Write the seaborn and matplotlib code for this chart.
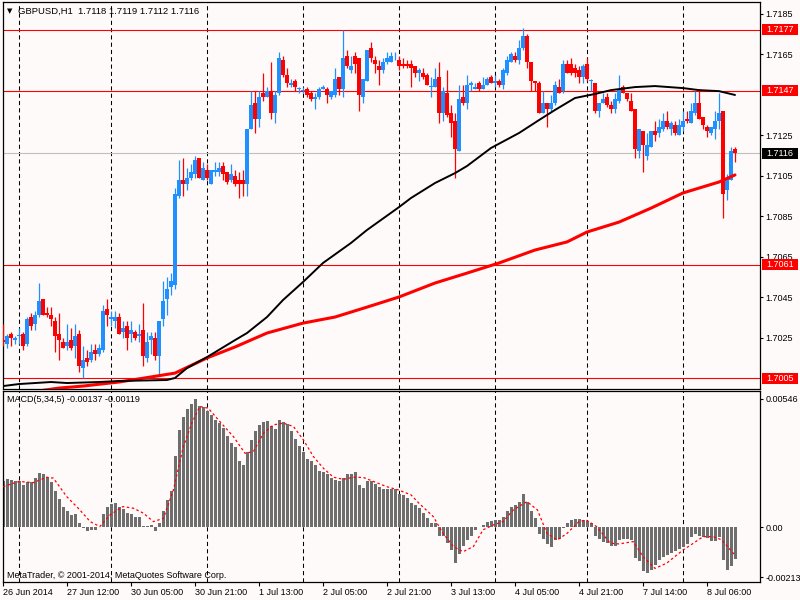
import numpy as np
import pandas as pd
import seaborn as sns
import matplotlib.pyplot as plt
import matplotlib.transforms as mtransforms
from matplotlib.patches import Rectangle

# GBPUSD H1 candles, 26 Jun 2014 20:00 .. 8 Jul 2014 13:00
opens = [
    1.7024, 1.7022, 1.7027, 1.7024, 1.7026, 1.7027, 1.7022, 1.7035, 1.7032, 1.7036, 1.7044, 1.7037,
    1.7036, 1.7033, 1.7027, 1.7023, 1.7021, 1.7024, 1.7021, 1.7027, 1.7010, 1.7015, 1.7014, 1.7019,
    1.7017, 1.7019, 1.7039, 1.7034, 1.7033, 1.7035, 1.7028, 1.7031, 1.7027, 1.7028, 1.7026, 1.7029,
    1.7015, 1.7024, 1.7025, 1.7016, 1.7034, 1.7044, 1.7050, 1.7051, 1.7095, 1.7103, 1.7101, 1.7104,
    1.7106, 1.7114, 1.7103, 1.7108, 1.7101, 1.7107, 1.7107, 1.7110, 1.7107, 1.7103, 1.7105, 1.7103,
    1.7103, 1.7101, 1.7128, 1.7141, 1.7133, 1.7146, 1.7144, 1.7147, 1.7136, 1.7146, 1.7162, 1.7155,
    1.7150, 1.7152, 1.7148, 1.7147, 1.7148, 1.7146, 1.7143, 1.7144, 1.7148, 1.7148, 1.7144, 1.7145,
    1.7154, 1.7148, 1.7164, 1.7157, 1.7164, 1.7163, 1.7144, 1.7152, 1.7168, 1.7162, 1.7159, 1.7157,
    1.7161, 1.7161, 1.7163, 1.7162, 1.7160, 1.7160, 1.7160, 1.7159, 1.7156, 1.7156, 1.7155, 1.7149,
    1.7149, 1.7154, 1.7136, 1.7146, 1.7136, 1.7132, 1.7117, 1.7144, 1.7141, 1.7150, 1.7148, 1.7151,
    1.7148, 1.7150, 1.7154, 1.7151, 1.7152, 1.7150, 1.7156, 1.7161, 1.7164, 1.7162, 1.7168, 1.7174,
    1.7161, 1.7152, 1.7151, 1.7136, 1.7141, 1.7138, 1.7141, 1.7149, 1.7147, 1.7160, 1.7160, 1.7158,
    1.7157, 1.7154, 1.7160, 1.7152, 1.7151, 1.7137, 1.7141, 1.7144, 1.7140, 1.7138, 1.7142, 1.7149,
    1.7146, 1.7142, 1.7138, 1.7117, 1.7127, 1.7115, 1.7119, 1.7127, 1.7126, 1.7128, 1.7132, 1.7128,
    1.7130, 1.7125, 1.7129, 1.7133, 1.7131, 1.7136, 1.7141, 1.7134, 1.7129, 1.7126, 1.7128, 1.7132,
    1.7137, 1.7098, 1.7103, 1.7118,
]
highs = [
    1.7032, 1.7027, 1.7028, 1.7026, 1.7030, 1.7028, 1.7035, 1.7037, 1.7038, 1.7052, 1.7044, 1.7040,
    1.7040, 1.7035, 1.7037, 1.7025, 1.7032, 1.7030, 1.7032, 1.7029, 1.7021, 1.7019, 1.7022, 1.7022,
    1.7022, 1.7041, 1.7044, 1.7038, 1.7038, 1.7037, 1.7033, 1.7033, 1.7033, 1.7029, 1.7032, 1.7042,
    1.7028, 1.7028, 1.7028, 1.7033, 1.7053, 1.7055, 1.7057, 1.7099, 1.7113, 1.7114, 1.7109, 1.7111,
    1.7115, 1.7114, 1.7112, 1.7111, 1.7108, 1.7112, 1.7112, 1.7112, 1.7107, 1.7111, 1.7108, 1.7107,
    1.7108, 1.7128, 1.7147, 1.7147, 1.7147, 1.7156, 1.7149, 1.7161, 1.7147, 1.7166, 1.7164, 1.7158,
    1.7153, 1.7153, 1.7149, 1.7149, 1.7149, 1.7147, 1.7146, 1.7149, 1.7150, 1.7149, 1.7147, 1.7158,
    1.7154, 1.7177, 1.7167, 1.7164, 1.7166, 1.7163, 1.7153, 1.7167, 1.7171, 1.7164, 1.7162, 1.7163,
    1.7166, 1.7166, 1.7166, 1.7164, 1.7163, 1.7162, 1.7162, 1.7159, 1.7158, 1.7158, 1.7156, 1.7154,
    1.7158, 1.7161, 1.7149, 1.7157, 1.7140, 1.7136, 1.7150, 1.7150, 1.7155, 1.7152, 1.7151, 1.7152,
    1.7154, 1.7154, 1.7155, 1.7155, 1.7153, 1.7158, 1.7164, 1.7166, 1.7166, 1.7172, 1.7178, 1.7175,
    1.7161, 1.7152, 1.7152, 1.7147, 1.7141, 1.7145, 1.7152, 1.7153, 1.7162, 1.7162, 1.7163, 1.7160,
    1.7159, 1.7160, 1.7163, 1.7153, 1.7151, 1.7141, 1.7146, 1.7146, 1.7142, 1.7146, 1.7155, 1.7150,
    1.7146, 1.7146, 1.7138, 1.7128, 1.7127, 1.7126, 1.7127, 1.7132, 1.7133, 1.7136, 1.7137, 1.7132,
    1.7132, 1.7133, 1.7137, 1.7137, 1.7141, 1.7147, 1.7147, 1.7134, 1.7130, 1.7129, 1.7137, 1.7146,
    1.7137, 1.7106, 1.7119, 1.7119,
]
lows = [
    1.7021, 1.7020, 1.7021, 1.7022, 1.7022, 1.7019, 1.7021, 1.7029, 1.7029, 1.7035, 1.7036, 1.7035,
    1.7031, 1.7018, 1.7014, 1.7020, 1.7019, 1.7019, 1.7015, 1.7008, 1.7005, 1.7011, 1.7013, 1.7014,
    1.7016, 1.7018, 1.7031, 1.7031, 1.7030, 1.7027, 1.7025, 1.7019, 1.7023, 1.7024, 1.7023, 1.7011,
    1.7013, 1.7017, 1.7014, 1.7007, 1.7031, 1.7036, 1.7046, 1.7049, 1.7094, 1.7095, 1.7098, 1.7103,
    1.7104, 1.7104, 1.7103, 1.7103, 1.7101, 1.7105, 1.7105, 1.7103, 1.7101, 1.7102, 1.7100, 1.7094,
    1.7095, 1.7095, 1.7128, 1.7126, 1.7129, 1.7142, 1.7144, 1.7133, 1.7131, 1.7145, 1.7154, 1.7149,
    1.7149, 1.7147, 1.7146, 1.7146, 1.7144, 1.7142, 1.7138, 1.7143, 1.7148, 1.7141, 1.7143, 1.7144,
    1.7145, 1.7144, 1.7158, 1.7156, 1.7156, 1.7137, 1.7141, 1.7152, 1.7161, 1.7156, 1.7150, 1.7156,
    1.7160, 1.7161, 1.7162, 1.7157, 1.7158, 1.7158, 1.7149, 1.7154, 1.7152, 1.7153, 1.7150, 1.7144,
    1.7149, 1.7131, 1.7132, 1.7134, 1.7124, 1.7104, 1.7117, 1.7140, 1.7138, 1.7147, 1.7148, 1.7147,
    1.7148, 1.7150, 1.7151, 1.7149, 1.7149, 1.7148, 1.7155, 1.7161, 1.7161, 1.7160, 1.7167, 1.7158,
    1.7147, 1.7147, 1.7136, 1.7136, 1.7129, 1.7137, 1.7140, 1.7146, 1.7146, 1.7156, 1.7155, 1.7154,
    1.7151, 1.7151, 1.7152, 1.7147, 1.7136, 1.7134, 1.7141, 1.7139, 1.7136, 1.7136, 1.7141, 1.7146,
    1.7142, 1.7137, 1.7114, 1.7114, 1.7107, 1.7113, 1.7119, 1.7122, 1.7124, 1.7127, 1.7128, 1.7125,
    1.7125, 1.7125, 1.7127, 1.7131, 1.7131, 1.7135, 1.7133, 1.7128, 1.7124, 1.7125, 1.7123, 1.7128,
    1.7084, 1.7093, 1.7103, 1.7112,
]
closes = [
    1.7023, 1.7026, 1.7025, 1.7025, 1.7026, 1.7021, 1.7034, 1.7031, 1.7036, 1.7043, 1.7036, 1.7036,
    1.7034, 1.7026, 1.7024, 1.7020, 1.7023, 1.7020, 1.7026, 1.7011, 1.7014, 1.7013, 1.7018, 1.7017,
    1.7020, 1.7038, 1.7036, 1.7035, 1.7035, 1.7027, 1.7030, 1.7025, 1.7029, 1.7025, 1.7027, 1.7016,
    1.7023, 1.7026, 1.7016, 1.7033, 1.7043, 1.7049, 1.7053, 1.7096, 1.7103, 1.7101, 1.7104, 1.7107,
    1.7113, 1.7104, 1.7109, 1.7104, 1.7108, 1.7108, 1.7109, 1.7106, 1.7102, 1.7106, 1.7101, 1.7101,
    1.7101, 1.7128, 1.7140, 1.7133, 1.7144, 1.7144, 1.7147, 1.7136, 1.7145, 1.7163, 1.7155, 1.7151,
    1.7151, 1.7149, 1.7148, 1.7147, 1.7145, 1.7143, 1.7144, 1.7148, 1.7149, 1.7145, 1.7147, 1.7153,
    1.7148, 1.7163, 1.7159, 1.7159, 1.7160, 1.7145, 1.7153, 1.7167, 1.7163, 1.7160, 1.7157, 1.7161,
    1.7163, 1.7164, 1.7163, 1.7159, 1.7159, 1.7159, 1.7158, 1.7156, 1.7157, 1.7154, 1.7150, 1.7149,
    1.7153, 1.7136, 1.7147, 1.7135, 1.7131, 1.7118, 1.7143, 1.7141, 1.7150, 1.7151, 1.7149, 1.7148,
    1.7150, 1.7153, 1.7151, 1.7152, 1.7150, 1.7157, 1.7162, 1.7165, 1.7162, 1.7168, 1.7174, 1.7161,
    1.7152, 1.7151, 1.7136, 1.7141, 1.7138, 1.7141, 1.7150, 1.7146, 1.7160, 1.7156, 1.7156, 1.7156,
    1.7154, 1.7159, 1.7153, 1.7152, 1.7137, 1.7141, 1.7143, 1.7140, 1.7138, 1.7143, 1.7148, 1.7146,
    1.7143, 1.7137, 1.7118, 1.7128, 1.7120, 1.7120, 1.7127, 1.7125, 1.7129, 1.7132, 1.7129, 1.7131,
    1.7126, 1.7130, 1.7132, 1.7132, 1.7137, 1.7141, 1.7133, 1.7130, 1.7127, 1.7129, 1.7132, 1.7136,
    1.7096, 1.7104, 1.7117, 1.7116,
]

# moving averages, read as (bar, price) vertices
ma_black_x = [0, 4, 12, 16, 24, 29, 41, 43, 46, 51, 58, 61, 66, 70, 75, 80, 87, 91, 99, 102,
              108, 113, 116, 122, 129, 134, 138, 143, 148, 152, 158, 163, 170, 174, 179, 183]
ma_black_y = [1.70011, 1.70021, 1.70031, 1.70026, 1.70031, 1.70036, 1.70041, 1.70051, 1.70100,
              1.70154, 1.70238, 1.70273, 1.70352, 1.70436, 1.70525, 1.70619, 1.70718, 1.70782,
              1.70895, 1.70940, 1.71014, 1.71063, 1.71098, 1.71187, 1.71261, 1.71325, 1.71375,
              1.71434, 1.71454, 1.71473, 1.71488, 1.71493, 1.71483, 1.71473, 1.71468, 1.71449]
ma_red_x = [10, 14, 20, 29, 37, 43, 51, 58, 66, 75, 83, 91, 99, 108, 116, 124, 133, 141, 146,
            154, 162, 170, 179, 183]
ma_red_y = [1.69990, 1.70001, 1.70011, 1.70031, 1.70056, 1.70075, 1.70150, 1.70204, 1.70273,
            1.70322, 1.70352, 1.70401, 1.70451, 1.70520, 1.70569, 1.70619, 1.70683, 1.70723,
            1.70772, 1.70821, 1.70890, 1.70965, 1.71019, 1.71054]

# MACD(5,34,5) histogram, one value per bar
macd = [
    0.00199, 0.00206, 0.00202, 0.00199, 0.00195, 0.00178, 0.00192, 0.00192, 0.00209, 0.00230,
    0.00226, 0.00213, 0.00192, 0.00156, 0.00121, 0.00088, 0.00071, 0.00053, 0.00057, 0.00017,
    -0.00004, -0.00016, -0.00011, -0.00011, 0.00003, 0.00057, 0.00088, 0.00098, 0.00102, 0.00088,
    0.00078, 0.00060, 0.00057, 0.00045, 0.00045, 0.00007, 0.00007, 0.00010, -0.00018, 0.00020,
    0.00071, 0.00116, 0.00156, 0.00305, 0.00415, 0.00471, 0.00504, 0.00525, 0.00546, 0.00517,
    0.00511, 0.00496, 0.00476, 0.00457, 0.00443, 0.00422, 0.00389, 0.00358, 0.00341, 0.00284,
    0.00266, 0.00320, 0.00372, 0.00408, 0.00436, 0.00450, 0.00454, 0.00429, 0.00419, 0.00457,
    0.00450, 0.00440, 0.00408, 0.00376, 0.00348, 0.00322, 0.00291, 0.00284, 0.00263, 0.00240,
    0.00237, 0.00227, 0.00209, 0.00202, 0.00195, 0.00209, 0.00226, 0.00227, 0.00237, 0.00180,
    0.00169, 0.00195, 0.00197, 0.00183, 0.00173, 0.00163, 0.00163, 0.00163, 0.00163, 0.00141,
    0.00138, 0.00124, 0.00105, 0.00095, 0.00081, 0.00062, 0.00038, 0.00020, 0.00020, -0.00036,
    -0.00036, -0.00068, -0.00097, -0.00153, -0.00115, -0.00078, -0.00054, -0.00036, -0.00011, 0.00003,
    0.00010, 0.00024, 0.00028, 0.00031, 0.00031, 0.00045, 0.00070, 0.00088, 0.00095, 0.00109,
    0.00142, 0.00109, 0.00071, 0.00038, -0.00028, -0.00050, -0.00072, -0.00082, -0.00054, -0.00050,
    -0.00004, 0.00017, 0.00031, 0.00034, 0.00034, 0.00031, 0.00027, 0.00020, -0.00036, -0.00050,
    -0.00061, -0.00065, -0.00078, -0.00080, -0.00054, -0.00050, -0.00050, -0.00054, -0.00132, -0.00143,
    -0.00186, -0.00196, -0.00182, -0.00160, -0.00139, -0.00125, -0.00118, -0.00111, -0.00101, -0.00094,
    -0.00082, -0.00072, -0.00043, -0.00028, -0.00036, -0.00040, -0.00044, -0.00058, -0.00058, -0.00040,
    -0.00139, -0.00182, -0.00163, -0.00137,
]
signal_x = [0, 4, 7.6, 10.9, 12.6, 15.9, 19.2, 21.8, 24.2, 26.8, 30, 32.6, 35.1, 37.6, 40.1, 42.6,
            45.1, 47.2, 49.2, 51.3, 54.2, 57.6, 60.5, 62.6, 65.1, 67.6, 70.1, 72.6, 75.1, 77.6,
            80.1, 82.6, 85.1, 87.6, 90.1, 92.6, 95.9, 98.8, 102, 104, 107.6, 110, 112.6, 115,
            117.6, 120, 122.6, 125, 127.6, 131, 133.6, 136, 138.6, 141, 144, 145.8, 148.4, 151.8,
            154, 157.6, 160, 163, 165.9, 170, 172.6, 175, 177.6, 179.7, 183]
signal_y = [0.00173, 0.00195, 0.00190, 0.00213, 0.00209, 0.00131, 0.00074, 0.00024, 0.00003,
            0.00053, 0.00088, 0.00081, 0.00060, 0.00024, 0.00038, 0.00159, 0.00344, 0.00443,
            0.00514, 0.00507, 0.00450, 0.00386, 0.00315, 0.00322, 0.00400, 0.00436, 0.00443,
            0.00429, 0.00372, 0.00301, 0.00251, 0.00213, 0.00204, 0.00213, 0.00212, 0.00195,
            0.00173, 0.00159, 0.00138, 0.00102, 0.00045, -0.00026, -0.00082, -0.00104, -0.00082,
            -0.00011, 0.00010, 0.00024, 0.00074, 0.00109, 0.00074, -0.00026, -0.00054, -0.00026,
            0.00024, 0.00031, 0.00003, -0.00068, -0.00071, -0.00061, -0.00125, -0.00175, -0.00153,
            -0.00097, -0.00068, -0.00040, -0.00040, -0.00054, -0.00119]

red_levels = [1.7177, 1.7147, 1.7061, 1.7005]
last_price = 1.7116
# 1.7145 and 1.7005 sit under the level boxes, so only the visible ones get text
price_ticks = [1.7185, 1.7165, 1.7125, 1.7105, 1.7085, 1.7065, 1.7045, 1.7025]
macd_ticks = [0.00546, 0.0, -0.00213]
macd_tick_labels = ["0.00546", "0.00", "-0.00213"]
day_breaks = [4, 27, 51, 75, 99, 123, 146, 170]
time_ticks = [0, 16, 32, 48, 64, 80, 96, 112, 128, 144, 160, 176]
time_labels = ["26 Jun 2014", "27 Jun 12:00", "30 Jun 05:00", "30 Jun 21:00", "1 Jul 13:00",
               "2 Jul 05:00", "2 Jul 21:00", "3 Jul 13:00", "4 Jul 05:00", "4 Jul 21:00",
               "7 Jul 14:00", "8 Jul 06:00"]

bg = "#fffafa"
bull = "#1e90ff"
bear = "#ff0000"
fs = 6.5

sns.set_theme(style="white")
plt.rcParams["font.family"] = ["Liberation Sans", "DejaVu Sans"]
plt.rcParams["axes.facecolor"] = bg
plt.rcParams["figure.facecolor"] = bg

df = pd.DataFrame({"open": opens, "high": highs, "low": lows, "close": closes})
df["bar"] = np.arange(len(df))
up = df["close"] >= df["open"]
colors = np.where(up, bull, bear)

fig = plt.figure(figsize=(8, 6), dpi=100)
ax = fig.add_axes([2.5 / 800, 1 - 389 / 600, 757.5 / 800, 387 / 600])
ax2 = fig.add_axes([2.5 / 800, 1 - 582 / 600, 757.5 / 800, 191 / 600])

for a in (ax, ax2):
    a.set_xlim(-0.125, 189.25)
    for b in day_breaks:
        a.axvline(b, color="black", lw=0.75, ls=(0, (4, 3)), zorder=1)
    for s in a.spines.values():
        s.set_color("black")
        s.set_linewidth(0.9)
    a.yaxis.tick_right()
    a.tick_params(axis="y", direction="out", length=2.5, width=0.8, color="black",
                  labelsize=fs, pad=1.5, labelcolor="black")

# --- price panel ---
ax.set_ylim(1.699965, 1.719083)
for lvl in red_levels:
    ax.axhline(lvl, color="#ff0000", lw=0.8, zorder=1.5)
ax.axhline(last_price, color="#c0c0c0", lw=0.8, zorder=1.2)

ax.vlines(df["bar"], df["low"], df["high"], colors=colors, lw=0.9, zorder=3)
body_low = np.minimum(df["open"], df["close"])
body_h = np.maximum(np.abs(df["close"] - df["open"]), 0.00004)
ax.bar(df["bar"], body_h, bottom=body_low, width=0.78, color=colors, linewidth=0, zorder=3)

sns.lineplot(x=ma_red_x, y=ma_red_y, ax=ax, color="#ff0000", lw=2.2, sort=False,
             estimator=None, zorder=4)
sns.lineplot(x=ma_black_x, y=ma_black_y, ax=ax, color="black", lw=1.4, sort=False,
             estimator=None, zorder=4)

ax.set_yticks(price_ticks)
ax.set_yticklabels([f"{t:.4f}" for t in price_ticks])
ax.set_xticks([])
ax.set_xlim(-0.125, 189.25)

blend = mtransforms.blended_transform_factory(ax.transAxes, ax.transData)
box_h = 11 * (ax.get_ylim()[1] - ax.get_ylim()[0]) / 387
for lvl, fc in [(l, "#ff0000") for l in red_levels] + [(last_price, "black")]:
    ax.add_patch(Rectangle(((762 - 2.5) / 757.5, lvl - box_h / 2), 36 / 757.5, box_h,
                           transform=blend, facecolor=fc, edgecolor="none",
                           clip_on=False, zorder=6))
    ax.text((780 - 2.5) / 757.5, lvl, f"{lvl:.4f}", transform=blend, color="white",
            fontsize=fs, ha="center", va="center", zorder=7, clip_on=False)

fig.text(7 / 800, 1 - 11 / 600, "\u25bc", fontsize=5, va="center", ha="left", color="black",
         family=["DejaVu Sans"])
fig.text(18 / 800, 1 - 11 / 600, "GBPUSD,H1  1.7118 1.7119 1.7112 1.7116",
         fontsize=6.8, va="center", ha="left", color="black")

# --- MACD panel ---
sns.barplot(x=np.arange(len(macd)), y=macd, ax=ax2, native_scale=True, color="#6e6e6e",
            saturation=1, width=0.75, errorbar=None, linewidth=0, zorder=2)
sns.lineplot(x=signal_x, y=signal_y, ax=ax2, color="#ff0000", lw=0.9, ls=(0, (2, 2)),
             sort=False, estimator=None, zorder=4)
ax2.set_xlim(-0.125, 189.25)
ax2.set_ylim(-0.00233, 0.00580)
ax2.set_yticks(macd_ticks)
ax2.set_yticklabels(macd_tick_labels)
ax2.set_xticks(time_ticks)
ax2.set_xticklabels(time_labels)
ax2.tick_params(axis="x", direction="out", length=3, width=0.8, color="black",
                labelsize=fs, pad=1.5, labelcolor="black", bottom=True)
for lab in ax2.get_xticklabels():
    lab.set_horizontalalignment("left")
ax2.set_xlabel("")
ax2.set_ylabel("")
ax.set_xlabel("")
ax.set_ylabel("")

ax2.text(4.5 / 757.5, 1 - 8 / 191, "MACD(5,34,5) -0.00137 -0.00119",
         transform=ax2.transAxes, fontsize=fs, va="center", ha="left", color="black")
ax2.text(4.5 / 757.5, 7 / 191, "MetaTrader, \u00a9 2001-2014, MetaQuotes Software Corp.",
         transform=ax2.transAxes, fontsize=fs, va="center", ha="left", color="black")

fig.savefig("out.png", dpi=100, facecolor=bg)
